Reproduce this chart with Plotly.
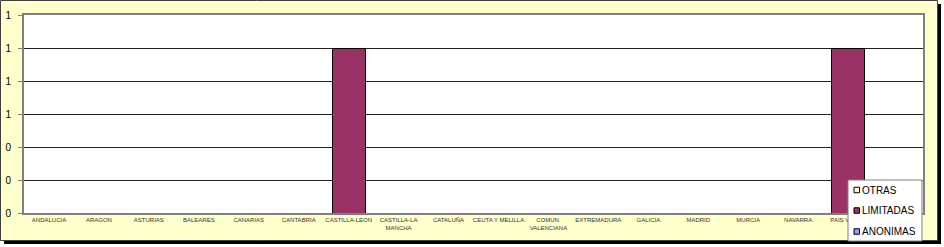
import plotly.graph_objects as go

categories = ["ANDALUCIA", "ARAGON", "ASTURIAS", "BALEARES", "CANARIAS", "CANTABRIA",
              "CASTILLA-LEON", "CASTILLA-LA<br>MANCHA", "CATALUÑA", "CEUTA Y MELILLA",
              "COMUN.<br>VALENCIANA", "EXTREMADURA", "GALICIA", "MADRID", "MURCIA",
              "NAVARRA", "PAIS VASCO", "LA RIOJA"]
anonimas = [0, 0, 0, 0, 0, 0, 0, 0, 0, 0, 0, 0, 0, 0, 0, 0, 0, 0]
limitadas = [0, 0, 0, 0, 0, 0, 1, 0, 0, 0, 0, 0, 0, 0, 0, 0, 1, 0]
otras = [0, 0, 0, 0, 0, 0, 0, 0, 0, 0, 0, 0, 0, 0, 0, 0, 0, 0]
y_tickvals = [0, 0.2, 0.4, 0.6, 0.8, 1.0, 1.2]
y_ticktext = ["0", "0", "0", "1", "1", "1", "1"]

series = [("ANONIMAS", anonimas, "#9999FF"),
          ("LIMITADAS", limitadas, "#993366"),
          ("OTRAS", otras, "#FFFFCC")]

FONT = "Liberation Sans, Arial, sans-serif"
W, H = 944, 247
L, R, T, B = 24, 21, 15, 34
pw, ph = W - L - R, H - T - B


def px(x):
    return (x - L) / pw


def py(y):
    return (H - B - y) / ph


fig = go.Figure()
for name, vals, color in series:
    fig.add_trace(go.Bar(x=categories, y=vals, name=name,
                         marker=dict(color=color, line=dict(color="black", width=1)),
                         showlegend=False))

shapes = [
    # shadow
    dict(type="rect", xref="paper", yref="paper", x0=px(4), x1=px(941), y0=py(4), y1=py(244),
         fillcolor="black", line=dict(width=0), layer="below"),
    # chart area
    dict(type="rect", xref="paper", yref="paper", x0=px(0.5), x1=px(937.5), y0=py(0.5), y1=py(240.5),
         fillcolor="#FFFFCC", line=dict(color="#404040", width=1), layer="below"),
    # plot area
    dict(type="rect", xref="paper", yref="paper", x0=0, x1=1, y0=0, y1=1,
         fillcolor="white", line=dict(width=0), layer="below"),
    # legend box
    dict(type="rect", xref="paper", yref="paper", x0=px(848), x1=px(922), y0=py(180), y1=py(241),
         fillcolor="white", line=dict(color="#808080", width=1), layer="above"),
]
annotations = []
leg_rows = [("OTRAS", "#FFFFCC", 190), ("LIMITADAS", "#993366", 210.5), ("ANONIMAS", "#9999FF", 231.5)]
for name, color, yc in leg_rows:
    shapes.append(dict(type="rect", xref="paper", yref="paper", x0=px(854), x1=px(859.5),
                       y0=py(yc - 2.75), y1=py(yc + 2.75), fillcolor=color,
                       line=dict(color="black", width=1), layer="above"))
    annotations.append(dict(text=name, xref="paper", yref="paper", x=px(860), y=py(yc),
                            xanchor="left", yanchor="middle", showarrow=False,
                            font=dict(family=FONT, size=10, color="black")))

fig.update_layout(
    width=W, height=H,
    margin=dict(l=L, r=R, t=T, b=B, autoexpand=False),
    paper_bgcolor="white", plot_bgcolor="white",
    barmode="stack", bargap=0.34,
    shapes=shapes, annotations=annotations,
    font=dict(family=FONT),
    xaxis=dict(showgrid=False, showline=True, linecolor="#808080", linewidth=2, mirror=True,
               ticks="", tickfont=dict(family=FONT, size=6, color="#333333"),
               tickangle=0, fixedrange=True, automargin=False),
    yaxis=dict(range=[0, 1.2], tickvals=y_tickvals, ticktext=y_ticktext,
               showgrid=True, gridcolor="#202020", gridwidth=1,
               showline=True, linecolor="#808080", linewidth=2, mirror=True,
               ticks="outside", ticklen=4, tickcolor="#808080", tickwidth=1,
               ticklabelstandoff=5, automargin=False,
               tickfont=dict(family=FONT, size=10, color="black"), zeroline=False,
               fixedrange=True),
)

fig.write_html("out.html")
